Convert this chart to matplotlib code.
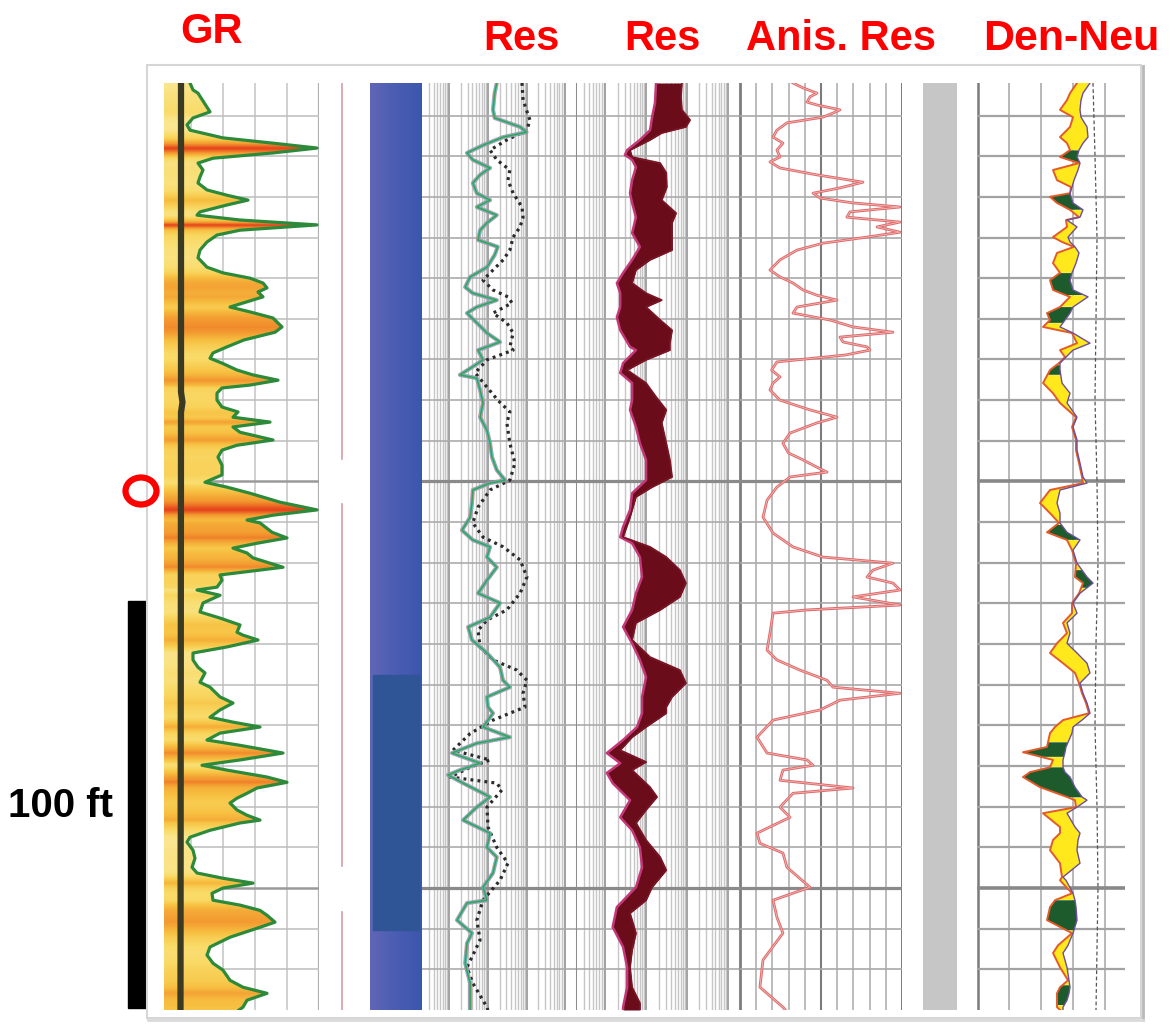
import numpy as np
import matplotlib
matplotlib.use("Agg")
import matplotlib.pyplot as plt
from matplotlib.colors import LinearSegmentedColormap
from matplotlib.patches import Rectangle, Ellipse
from matplotlib.lines import Line2D

# ---------------- data (depth in ft) ----------------
TOP, BASE = 1002.0, 1230.0
depth_grid = list(range(1010, 1230, 10))
heavy_depths = [1100, 1200]

track_titles = ["GR", "Res", "Res", "Anis. Res", "Den-Neu"]
scale_label = "100 ft"
scale_bar = (1129.4, 1229.6)      # depth span of the 100 ft bar

gr_depth = [1002.0, 1003.7, 1004.5, 1009.1, 1010.6, 1012.3, 1013.6, 1015.5, 1016.8, 1018.0,
            1019.2, 1020.5, 1021.7, 1023.4, 1025.1, 1026.6, 1028.3, 1029.6, 1030.8, 1032.0,
            1033.7, 1034.5, 1035.7, 1036.9, 1038.2, 1039.4, 1041.1, 1043.1, 1045.0, 1047.3,
            1048.7, 1050.0, 1051.2, 1052.4, 1053.4, 1054.6, 1056.1, 1057.1, 1058.3, 1059.8,
            1062.0, 1063.3, 1065.2, 1066.9, 1068.4, 1069.7, 1070.9, 1072.6, 1073.8, 1075.1,
            1076.3, 1077.0, 1078.3, 1080.0, 1081.7, 1082.9, 1084.2, 1085.4, 1086.6, 1087.9,
            1089.8, 1091.1, 1092.3, 1094.0, 1096.0, 1098.4, 1100.2, 1101.4, 1102.9, 1105.1,
            1107.0, 1108.3, 1109.5, 1110.2, 1112.5, 1113.9, 1115.2, 1116.4, 1117.6, 1118.8,
            1121.1, 1122.3, 1123.0, 1124.3, 1126.0, 1126.7, 1128.0, 1129.9, 1132.1, 1133.6,
            1135.3, 1137.1, 1137.8, 1139.0, 1140.7, 1142.2, 1143.9, 1145.7, 1147.1, 1149.4,
            1150.6, 1153.0, 1154.5, 1156.2, 1158.0, 1159.2, 1160.4, 1161.9, 1163.6, 1164.9,
            1166.8, 1168.5, 1169.8, 1171.0, 1172.7, 1174.0, 1175.4, 1176.7, 1177.9, 1179.1,
            1180.8, 1182.1, 1183.3, 1184.0, 1185.8, 1187.5, 1188.7, 1190.7, 1192.7, 1194.9,
            1196.3, 1197.6, 1198.8, 1200.0, 1201.3, 1203.0, 1204.2, 1205.5, 1206.7, 1208.4,
            1209.9, 1212.1, 1214.5, 1216.5, 1218.5, 1220.2, 1222.7, 1224.4, 1225.9, 1227.6,
            1229.3, 1230.0]
gr_val = [26, 29, 34, 46, 29, 23, 26, 59, 109, 153,
          109, 49, 34, 39, 36, 34, 43, 63, 84, 63,
          36, 33, 76, 153, 76, 53, 43, 36, 34, 43,
          59, 86, 99, 103, 94, 99, 79, 66, 86, 109,
          118, 111, 80, 63, 49, 46, 58, 73, 89, 114,
          86, 58, 53, 53, 58, 74, 69, 106, 69, 76,
          109, 73, 58, 54, 58, 58, 41, 63, 86, 116,
          153, 109, 83, 96, 108, 123, 93, 69, 83, 89,
          119, 79, 56, 58, 53, 33, 56, 39, 36, 56,
          76, 73, 79, 94, 63, 29, 29, 34, 41, 36,
          46, 56, 69, 56, 46, 69, 96, 56, 43, 76,
          119, 76, 38, 63, 103, 123, 93, 83, 73, 66,
          73, 83, 96, 76, 46, 26, 23, 29, 31, 28,
          33, 59, 89, 59, 48, 49, 76, 96, 103, 111,
          93, 66, 46, 43, 49, 59, 66, 79, 103, 83,
          79, 75]

cal_depth = [1002.0, 1078.0, 1080.5, 1083.0, 1230.0]
cal_val = [17, 17, 18.5, 17, 16.5]

pink_gaps = [(1094.7, 1105.1), (1194.9, 1205.5)]
blue_dark = (1147.6, 1210.4)

res1_depth = [1002.0, 1004.5, 1008.6, 1010.6, 1012.8, 1014.1, 1015.3, 1017.3, 1019.2, 1020.9,
              1022.9, 1024.6, 1026.6, 1029.1, 1030.8, 1032.5, 1034.5, 1036.4, 1038.2, 1040.6,
              1042.3, 1044.3, 1047.3, 1049.7, 1052.2, 1053.7, 1055.4, 1057.1, 1058.6, 1061.0,
              1063.5, 1065.7, 1067.7, 1070.1, 1071.9, 1073.8, 1074.6, 1077.5, 1080.7, 1084.2,
              1087.4, 1090.6, 1094.0, 1097.2, 1099.7, 1100.4, 1102.1, 1105.3, 1108.8, 1112.0,
              1114.4, 1116.1, 1118.6, 1121.1, 1124.3, 1127.5, 1129.9, 1133.4, 1135.8, 1139.0,
              1142.2, 1145.7, 1148.9, 1150.6, 1153.0, 1155.5, 1157.0, 1160.4, 1162.9, 1164.4,
              1166.8, 1169.3, 1171.0, 1172.2, 1174.2, 1177.6, 1180.1, 1183.3, 1186.5, 1190.0,
              1192.4, 1196.3, 1199.8, 1203.0, 1203.7, 1207.9, 1211.1, 1213.6, 1218.5, 1223.4,
              1229.3, 1230.0]
res1_val = [17, 15, 13.6, 15, 68, 100, 25, 7.5, 2.9, 4.1,
            11.4, 6.3, 4.1, 5.2, 11.4, 5.2, 17, 9.5, 6.3, 5.6,
            18, 15, 9.5, 3.5, 2.6, 4.1, 17, 5.2, 2.9, 5.2,
            9.5, 20.6, 5.6, 7.5, 3.9, 1.9, 5.2, 6.3, 7.5, 6.3,
            9.5, 11.4, 12.8, 17, 28, 11.4, 4.1, 3.9, 3.5, 2.15,
            4.1, 11.4, 9.5, 17, 9.5, 5.6, 20.6, 11.4, 3.1, 3.9,
            9.5, 20.6, 24.6, 37, 9.5, 10.1, 13.6, 7.5, 37, 5.2,
            1.19, 6.3, 1.9, 0.94, 2.3, 11.4, 5.2, 2.3, 11.4, 9.5,
            17, 13.6, 7.5, 9.5, 2.9, 1.6, 3.9, 2.9, 2.6, 3.5,
            3.5, 3.5]

dot_depth = [1002.0, 1006.2, 1011.1, 1013.6, 1016.0, 1018.5, 1020.9, 1023.4, 1025.9, 1029.1,
             1032.5, 1035.0, 1037.4, 1039.9, 1043.1, 1045.5, 1048.0, 1050.5, 1052.9, 1054.6,
             1056.1, 1058.6, 1061.0, 1063.5, 1066.9, 1067.7, 1070.1, 1073.3, 1076.8, 1080.0,
             1082.9, 1085.6, 1090.6, 1095.5, 1099.7, 1102.1, 1106.3, 1110.2, 1113.7, 1116.1,
             1119.3, 1123.5, 1127.5, 1131.6, 1134.1, 1136.6, 1140.7, 1143.9, 1146.4, 1148.9,
             1152.1, 1155.5, 1157.0, 1158.7, 1162.0, 1166.1, 1168.5, 1170.3, 1172.7, 1174.2,
             1175.9, 1180.1, 1185.0, 1190.0, 1193.9, 1198.1, 1203.0, 1207.9, 1212.8, 1219.5,
             1223.4, 1229.3, 1230.0]
dot_val = [76, 81, 122, 102, 31, 11.4, 17, 37, 33, 45,
           76, 81, 68, 45, 37, 25, 13.6, 7.5, 13.6, 33,
           42, 13.6, 31, 45, 37, 45, 9.5, 4.7, 9.5, 18,
           37, 31, 37, 50, 37, 11.4, 5.6, 4.1, 7.5, 25,
           68, 102, 68, 31, 9.5, 5.6, 6.3, 13.6, 56, 102,
           81, 91, 37, 13.6, 3.5, 1.26, 11.4, 3.5, 1.06, 17,
           23, 9.5, 10.1, 17, 33, 20.6, 7.5, 5.2, 6.3, 2.9,
           4.1, 9.5, 10]

sh_depth = [1002.0, 1006.9, 1010.4, 1013.6, 1016.0, 1018.5, 1019.7, 1020.9, 1022.7, 1025.9,
            1029.1, 1031.5, 1035.0, 1038.9, 1042.3, 1045.5, 1048.7, 1051.2, 1053.7, 1057.1,
            1059.6, 1062.8, 1066.9, 1067.7, 1070.9, 1073.3, 1075.8, 1080.0, 1082.4, 1086.6,
            1090.6, 1094.7, 1099.7, 1102.9, 1107.0, 1111.2, 1113.7, 1115.2, 1118.6, 1123.5,
            1127.5, 1131.6, 1135.8, 1139.8, 1143.9, 1148.1, 1153.0, 1157.0, 1160.4, 1163.6,
            1166.8, 1169.3, 1171.7, 1174.2, 1178.4, 1182.6, 1185.8, 1190.0, 1194.9, 1199.8,
            1204.7, 1209.6, 1214.5, 1219.5, 1224.4, 1229.3, 1230.0]
sh_val = [17.4, 16.4, 13.9, 12.4, 7.0, 3.4, 3.0, 4.5, 5.6, 4.5,
          4.0, 4.5, 5.6, 4.5, 7.0, 4.5, 2.7, 1.9, 2.3, 2.3,
          1.9, 2.3, 4.0, 5.6, 2.7, 2.3, 4.5, 4.5, 4.0, 5.6,
          7.0, 9.9, 9.9, 4.5, 4.0, 2.7, 2.3, 4.5, 7.0, 7.9,
          5.6, 4.5, 2.7, 4.5, 7.0, 9.9, 7.9, 7.9, 5.95, 2.7,
          1.08, 2.3, 1.08, 1.5, 4.0, 2.3, 4.5, 7.0, 7.9, 5.6,
          1.9, 1.5, 2.7, 3.4, 3.4, 2.7, 2.7]

dp_depth = [1002.0, 1005.4, 1008.6, 1011.1, 1012.8, 1014.3, 1016.0, 1018.5, 1020.2, 1021.7,
            1024.1, 1027.6, 1030.8, 1034.0, 1036.4, 1039.9, 1043.1, 1045.5, 1048.0, 1051.2,
            1053.7, 1055.4, 1057.1, 1060.3, 1062.8, 1066.0, 1067.7, 1070.1, 1072.6, 1075.8,
            1079.2, 1082.4, 1085.6, 1090.6, 1094.7, 1098.9, 1101.4, 1103.8, 1108.8, 1113.7,
            1116.1, 1118.6, 1121.8, 1125.0, 1128.4, 1131.6, 1134.8, 1139.0, 1143.2, 1146.4,
            1149.6, 1153.0, 1155.5, 1157.0, 1160.4, 1162.9, 1166.1, 1169.0, 1171.0, 1175.2,
            1177.6, 1180.8, 1184.0, 1188.2, 1192.4, 1195.6, 1199.8, 1203.0, 1206.2, 1211.1,
            1215.3, 1219.5, 1224.4, 1228.3, 1230.0]
dp_val = [75, 71, 75, 119, 94, 24, 12.4, 4.0, 4.5, 22,
          31, 32, 24, 54, 43, 43, 43, 12.4, 5.6, 4.5,
          9.9, 24, 9.9, 22, 43, 38, 38, 9.9, 3.4, 9.9,
          17.4, 31, 24, 31, 38, 43, 13.9, 5.6, 4.0, 2.7,
          12.4, 31, 67, 94, 67, 22, 5.6, 4.5, 12.4, 67,
          94, 43, 31, 31, 9.9, 4.5, 2.3, 9.9, 4.5, 12.4,
          18.4, 9.9, 5.6, 9.9, 22, 31, 13.9, 9.9, 4.0, 5.6,
          4.5, 4.0, 4.5, 7.0, 7.0]

an_depth = [1002.0, 1003.2, 1004.5, 1005.4, 1006.7, 1007.4, 1008.6, 1009.4, 1010.4, 1011.8,
            1013.6, 1015.3, 1016.8, 1018.5, 1020.2, 1021.4, 1022.9, 1024.6, 1026.4, 1027.8,
            1029.1, 1030.3, 1031.5, 1032.5, 1033.7, 1035.0, 1036.2, 1037.4, 1038.7, 1039.9,
            1041.4, 1043.1, 1045.5, 1048.0, 1049.7, 1051.2, 1052.9, 1054.2, 1055.4, 1057.1,
            1058.6, 1060.3, 1062.0, 1063.3, 1064.5, 1065.7, 1066.9, 1067.7, 1068.9, 1070.6,
            1072.6, 1074.3, 1075.8, 1077.5, 1080.0, 1082.4, 1084.2, 1085.6, 1088.1, 1090.6,
            1093.0, 1094.7, 1096.5, 1097.7, 1098.9, 1101.4, 1104.6, 1108.8, 1112.7, 1116.1,
            1118.6, 1120.1, 1121.8, 1123.5, 1125.0, 1126.7, 1128.4, 1130.4, 1131.6, 1132.4,
            1137.3, 1141.5, 1143.9, 1146.4, 1148.9, 1150.6, 1152.1, 1153.8, 1156.2, 1158.7,
            1162.9, 1166.8, 1168.5, 1169.8, 1171.0, 1173.5, 1175.4, 1176.7, 1180.1, 1182.6,
            1186.5, 1189.0, 1191.4, 1194.9, 1199.8, 1203.0, 1207.2, 1211.1, 1217.7, 1224.4,
            1229.3, 1230.0]
an_val = [3.27, 3.89, 4.75, 4.32, 4.14, 4.75, 6.17, 5.74, 5.12, 2.9,
          2.28, 2.04, 2.65, 2.28, 2.47, 1.85, 2.47, 4.75, 7.59, 6.17,
          4.51, 4.94, 6.98, 9.88, 6.79, 6.6, 9.88, 8.46, 9.88, 7.84,
          5.12, 3.52, 2.47, 1.85, 2.47, 3.27, 3.89, 4.75, 5.99, 3.52,
          3.27, 5.56, 6.98, 9.44, 6.17, 6.36, 7.84, 8.02, 6.5, 2.28,
          1.95, 2.47, 2.04, 1.85, 2.47, 4.32, 5.99, 4.75, 3.09, 2.65,
          2.99, 3.89, 4.75, 5.37, 3.09, 2.28, 1.67, 1.42, 2.04, 3.27,
          5.12, 9.44, 8.21, 7.84, 9.44, 9.88, 6.98, 9.88, 4.14, 2.04,
          1.85, 1.67, 2.28, 3.7, 5.37, 5.74, 9.88, 6.17, 4.94, 2.04,
          1.05, 1.67, 4.14, 4.51, 2.65, 2.47, 6.98, 3.27, 2.47, 3.09,
          1.05, 1.23, 2.65, 2.9, 4.32, 2.04, 2.28, 2.65, 1.42, 1.23,
          2.65, 2.8]

dn_depth = [1002.0, 1004.5, 1006.2, 1008.6, 1010.4, 1012.8, 1015.3, 1016.8, 1018.5, 1020.2,
            1021.7, 1023.4, 1025.9, 1027.6, 1029.1, 1030.0, 1031.5, 1033.2, 1035.0, 1035.7,
            1037.4, 1039.9, 1041.1, 1042.3, 1043.8, 1046.3, 1048.7, 1050.5, 1052.9, 1054.6,
            1057.1, 1058.6, 1060.3, 1062.0, 1063.5, 1066.0, 1067.7, 1069.4, 1070.9, 1072.6,
            1075.8, 1078.3, 1080.7, 1084.2, 1086.6, 1089.8, 1092.3, 1095.5, 1098.9, 1100.4,
            1102.1, 1105.3, 1107.8, 1110.2, 1112.5, 1114.4, 1116.9, 1120.1, 1123.5, 1125.0,
            1127.5, 1129.9, 1132.4, 1134.8, 1137.3, 1139.8, 1142.2, 1144.7, 1147.1, 1149.6,
            1152.1, 1154.5, 1157.0, 1158.7, 1160.4, 1161.9, 1165.3, 1166.6, 1168.5, 1170.3,
            1171.5, 1172.7, 1175.2, 1177.6, 1178.4, 1180.1, 1181.6, 1185.0, 1186.5, 1188.2,
            1190.7, 1193.9, 1197.3, 1198.1, 1201.3, 1203.0, 1204.7, 1207.9, 1211.1, 1214.1,
            1216.0, 1219.5, 1222.7, 1224.4, 1225.9, 1227.6, 1229.3, 1230.0]
neu_val = [113, 106, 104, 103, 104, 110, 111, 106, 102, 100,
           103, 101, 97, 95, 93, 94, 96, 106, 103, 90,
           100, 91, 93, 98, 102, 99, 95, 93, 96, 111,
           96, 93, 88, 83, 96, 113, 96, 89, 83, 83,
           85, 93, 90, 100, 96, 100, 100, 103, 106, 110,
           83, 80, 83, 83, 90, 103, 96, 100, 110, 116,
           103, 96, 100, 90, 93, 90, 100, 110, 113, 103,
           106, 110, 113, 105, 96, 95, 89, 88, 86, 86,
           88, 93, 98, 105, 110, 100, 90, 98, 103, 101,
           100, 103, 86, 89, 96, 98, 99, 100, 96, 91,
           86, 90, 92, 93, 92, 90, 86, 86]
den_val = [100, 93, 90, 83, 96, 93, 83, 90, 93, 83,
           102, 76, 80, 94, 93, 73, 80, 93, 102, 89,
           90, 76, 85, 97, 80, 76, 83, 73, 76, 93,
           83, 70, 73, 66, 95, 100, 83, 88, 82, 73,
           66, 76, 83, 99, 95, 99, 99, 102, 105, 106,
           73, 63, 73, 82, 70, 90, 95, 99, 98, 106,
           102, 95, 95, 86, 90, 80, 73, 86, 98, 102,
           105, 109, 112, 86, 78, 73, 70, 46, 76, 73,
           53, 46, 63, 90, 98, 99, 66, 83, 83, 76,
           73, 83, 85, 83, 95, 78, 73, 70, 95, 81,
           76, 83, 91, 83, 80, 80, 80, 83]
green_zones = [(1018.5, 1021.7), (1029.1, 1033.2), (1048.7, 1054.2), (1057.1, 1061.0),
               (1071.4, 1073.8), (1110.7, 1114.4), (1121.8, 1126.2), (1164.1, 1167.8),
               (1170.3, 1177.7), (1203.0, 1210.4), (1223.9, 1228.8)]
dash_depth = [1002, 1020, 1040, 1060, 1080, 1100, 1120, 1140, 1160, 1180, 1200, 1230]
dash_val = [116, 118, 120, 119, 118, 120, 121, 119, 118, 120, 121, 119]

# ---------------- figure ----------------
W, H = 1175, 1025
fig = plt.figure(figsize=(W / 100, H / 100), dpi=100)
fig.patch.set_facecolor('white')

Y0, Y1 = 83, 1010   # track pixel extent (layout)


def add_ax(x0, x1, y0=Y0, y1=Y1):
    ax = fig.add_axes([x0 / W, 1 - y1 / H, (x1 - x0) / W, (y1 - y0) / H])
    for s in ax.spines.values():
        s.set_visible(False)
    ax.set_xticks([])
    ax.set_yticks([])
    ax.patch.set_alpha(0)
    return ax


def hgrid(ax, color='#b6b6b6', lw=1.1, hcolor='#8e8e8e', hlw=2.3):
    for d in depth_grid:
        if d in heavy_depths:
            ax.axhline(d, color=hcolor, lw=hlw, zorder=1)
        else:
            ax.axhline(d, color=color, lw=lw, zorder=1)


def log_grid(ax):
    for dec in [0.1, 1, 10, 100, 1000]:
        for k in range(1, 10):
            v = dec * k
            if 0.2 < v < 2000:
                if k == 1:
                    ax.axvline(v, color='#9c9c9c', lw=1.3, zorder=0)
                else:
                    ax.axvline(v, color='#c6c6c6', lw=1.0, zorder=0)


# panel frame
fig.add_artist(Rectangle((147 / W, 1 - 1018 / H), (1141 - 147) / W, (1018 - 65) / H,
                         transform=fig.transFigure, fill=False, edgecolor='#d6d6d6', lw=1.5))
fig.add_artist(Line2D([1143 / W, 1143 / W], [1 - 1020 / H, 1 - 66 / H],
                      transform=fig.transFigure, color='#b8b8b8', lw=2))
fig.add_artist(Line2D([148 / W, 1143 / W], [1 - 1020 / H, 1 - 1020 / H],
                      transform=fig.transFigure, color='#dadada', lw=2))

# ---- GR track ----
ax = add_ax(164, 319)
ax.set_xlim(0, 155)
hgrid(ax, color='#bdbdbd', lw=1.1, hcolor='#9a9a9a', hlw=1.8)
for v in [27, 59, 91, 123]:
    ax.axvline(v, color='#c4c4c4', lw=1.1, zorder=0)
ax.axvline(154.5, color='#b0b0b0', lw=1.6, zorder=0)
poly = ax.fill_betweenx(gr_depth, 0, gr_val, facecolor='none', edgecolor='none')
gr_cmap = LinearSegmentedColormap.from_list(
    'gr', [(0, '#fbe896'), (0.22, '#f9da66'), (0.45, '#f7c142'), (0.7, '#f39a30'), (1.0, '#e6461c')])
dd = np.linspace(TOP, BASE, 1500)
gv = np.interp(dd, gr_depth, gr_val)
img = ax.imshow(gv[:, None], cmap=gr_cmap, vmin=20, vmax=150, extent=[0, 155, BASE, TOP],
                aspect='auto', zorder=2, interpolation='bilinear')
img.set_clip_path(poly.get_paths()[0], transform=ax.transData)
ax.plot(gr_val, gr_depth, color='#2c8a3a', lw=2.3, zorder=4)
ax.plot(cal_val, cal_depth, color='#3a3923', lw=4.5, zorder=5, solid_capstyle='butt')
ax.set_xlim(0, 155)
ax.set_ylim(BASE, TOP)

# ---- pink line track ----
ax = add_ax(319, 370)
ax.set_xlim(0, 1)
ax.set_ylim(BASE, TOP)
ax.axvline(0.45, color='#d9a4ac', lw=1.3, zorder=1)
for a, b in pink_gaps:
    ax.axhspan(a, b, xmin=0.0, xmax=0.8, color='white', zorder=2)

# ---- blue bar ----
ax = add_ax(370, 422)
blue_cmap = LinearSegmentedColormap.from_list('bl', ['#6066b6', '#4a5db2', '#3b57ad'])
ax.imshow(np.linspace(0, 1, 60)[None, :], cmap=blue_cmap, extent=[0, 1, BASE, TOP],
          aspect='auto', zorder=1)
ax.axhspan(blue_dark[0], blue_dark[1], xmin=0.06, xmax=0.95, color='#2f5597', zorder=2)
ax.set_xlim(0, 1)
ax.set_ylim(BASE, TOP)

# ---- Res track 1 ----
ax = add_ax(422, 577)
ax.set_xscale('log')
ax.set_xlim(0.2, 2000)
ax.set_ylim(BASE, TOP)
log_grid(ax)
hgrid(ax, color='#ababab', lw=1.2, hcolor='#8a8a8a', hlw=2.3)
ax.axvline(1990, color='#8c8c8c', lw=2.2, zorder=1)
ax.plot(dot_val, dot_depth, color='#2b2b2b', lw=2.3, ls=(0, (0.9, 1.3)), zorder=3)
ax.plot(res1_val, res1_depth, color='#c870a8', lw=3.0, alpha=0.7, zorder=4)
ax.plot(res1_val, res1_depth, color='#5cbdb0', lw=2.2, zorder=5)
ax.plot(res1_val, res1_depth, color='#3f9d55', lw=1.0, zorder=6)
ax.set_xticks([]); ax.set_yticks([])
ax.minorticks_off()

# ---- Res track 2 ----
ax = add_ax(577, 740)
ax.set_xscale('log')
ax.set_xlim(0.2, 2000)
ax.set_ylim(BASE, TOP)
log_grid(ax)
hgrid(ax, color='#ababab', lw=1.2, hcolor='#8a8a8a', hlw=2.3)
ax.axvline(1985, color='#8c8c8c', lw=2.2, zorder=1)
dfine = np.linspace(TOP, BASE, 2500)
sh_i = 10 ** np.interp(dfine, sh_depth, np.log10(sh_val))
dp_i = 10 ** np.interp(dfine, dp_depth, np.log10(dp_val))
ax.fill_betweenx(dfine, sh_i, dp_i, where=dp_i >= sh_i, interpolate=True,
                 color='#6a0c1a', lw=0, zorder=3)
ax.plot(sh_val, sh_depth, color='#c4387a', lw=1.8, zorder=4)
ax.plot(dp_val, dp_depth, color='#7a1526', lw=1.3, zorder=4)
ax.set_xticks([]); ax.set_yticks([])
ax.minorticks_off()

# ---- Anis. Res track ----
ax = add_ax(740, 902)
ax.set_xlim(0, 10)
ax.set_ylim(BASE, TOP)
for v in range(1, 10):
    if v == 5:
        ax.axvline(v, color='#7c7c7c', lw=1.5, zorder=0)
    else:
        ax.axvline(v, color='#aaaaaa', lw=1.1, zorder=0)
ax.axvline(0.02, color='#7c7c7c', lw=2, zorder=0)
ax.axvline(9.97, color='#6f6f6f', lw=2, zorder=0)
hgrid(ax, color='#a9a9a9', lw=1.2, hcolor='#8a8a8a', hlw=2.3)
ax.plot(an_val, an_depth, color='#e06b6b', lw=2.0, zorder=3)
ax.plot(an_val, an_depth, color='#f4c2c2', lw=0.5, zorder=4)

# ---- gray bar ----
ax = add_ax(923, 957)
ax.set_xlim(0, 1)
ax.set_ylim(BASE, TOP)
ax.axvspan(0, 1, color='#c6c6c6', zorder=1)

# ---- Den-Neu track ----
ax = add_ax(977, 1125)
ax.set_xlim(0, 148)
ax.set_ylim(BASE, TOP)
for v in [32, 64, 96, 128]:
    ax.axvline(v, color='#ababab', lw=1.2, zorder=0)
ax.axvline(0.6, color='#7a7a7a', lw=1.8, zorder=0)
hgrid(ax, color='#a3a3a3', lw=1.6, hcolor='#888888', hlw=2.6)
ax.plot(dash_val, dash_depth, color='#555555', lw=0.9, ls=(0, (3, 2)), zorder=2)
dn_i = np.linspace(TOP, BASE, 3000)
den_i = np.interp(dn_i, dn_depth, den_val)
neu_i = np.interp(dn_i, dn_depth, neu_val)
gmask = np.zeros_like(dn_i, dtype=bool)
for a, b in green_zones:
    gmask |= (dn_i >= a) & (dn_i <= b)
cross = den_i < neu_i
ax.fill_betweenx(dn_i, den_i, neu_i, where=cross & ~gmask, color='#ffe81c', lw=0, zorder=3)
ax.fill_betweenx(dn_i, den_i, neu_i, where=cross & gmask, color='#1d5b2d', lw=0, zorder=3)
ax.plot(den_val, dn_depth, color='#e35a2a', lw=1.4, zorder=4)
ax.plot(neu_val, dn_depth, color='#6b4f9c', lw=1.0, zorder=5)

# ---- titles and annotations ----
fam = ['Liberation Sans Narrow', 'Liberation Sans', 'DejaVu Sans']
title_pos = [(212, 43), (521, 50), (662, 50), (841, 50), (1071, 50)]
title_size = [30, 30, 30, 30, 31]
for t, (x, y), fs in zip(track_titles, title_pos, title_size):
    fig.text(x / W, 1 - y / H, t, color='#ff0000', fontsize=fs, fontweight='bold',
             family=fam, ha='center', va='baseline')

fig.text(60 / W, 1 - 817 / H, scale_label, color='black', fontsize=29, fontweight='bold',
         family=['Liberation Sans', 'DejaVu Sans'], ha='center', va='baseline')

# scale bar drawn on a depth axis to the left
axl = add_ax(110, 164)
axl.set_xlim(0, 1)
axl.set_ylim(BASE, TOP)
axl.axvspan(0.33, 0.67, ymin=(BASE - scale_bar[1]) / (BASE - TOP),
            ymax=(BASE - scale_bar[0]) / (BASE - TOP), color='black', zorder=1)
fig.add_artist(Ellipse((141 / W, 1 - 491 / H), 31 / W, 27 / H, transform=fig.transFigure,
                       fill=False, edgecolor='#ff0000', lw=4.5))

fig.savefig('out.png', dpi=100, facecolor='white')
